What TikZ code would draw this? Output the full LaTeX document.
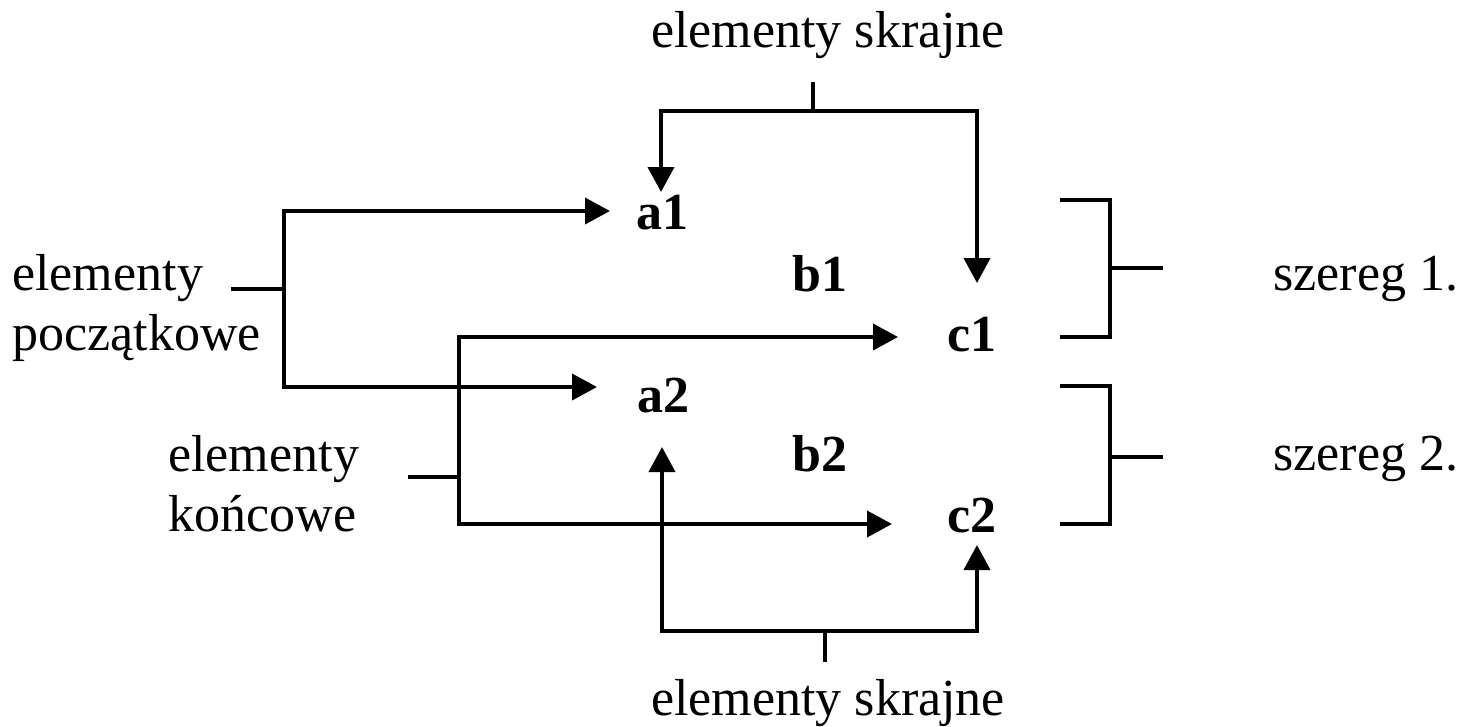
\documentclass[tikz,border=0pt]{standalone}
\usepackage{fontspec}
\setmainfont{Liberation Serif}
\usetikzlibrary{arrows.meta}
\begin{document}
\begin{tikzpicture}[x=0.02cm,y=-0.02cm,
  line/.style={line width=2.2pt},
  arr/.style={line width=2.2pt,-{Triangle[length=0.5cm,width=0.52cm]}},
  lbl/.style={font=\fontsize{29.6}{34}\selectfont, inner sep=0pt},
  el/.style={font=\fontsize{29.6}{34}\selectfont\bfseries, inner sep=0pt, anchor=base}]
\useasboundingbox (0,0) rectangle (1461,727);
% element nodes
\node[el] (a1) at (662,229) {a1};
\node[el] (b1) at (820,291) {b1};
\node[el] (c1) at (972,351) {c1};
\node[el] (a2) at (663,412) {a2};
\node[el] (b2) at (820,471) {b2};
\node[el] (c2) at (972,532) {c2};
% labels
\node[lbl,anchor=base] (top) at (828,47) {elementy skrajne};
\node[lbl,anchor=base] (bot) at (828,715) {elementy skrajne};
\node[lbl,anchor=base west] (pocz1) at (12,290) {elementy};
\node[lbl,anchor=base west] (pocz2) at (12,350) {początkowe};
\node[lbl,anchor=base west] (konc1) at (168,471) {elementy};
\node[lbl,anchor=base west] (konc2) at (168,531) {końcowe};
\node[lbl,anchor=base west] (sz1) at (1273,290) {szereg 1.};
\node[lbl,anchor=base west] (sz2) at (1273,470) {szereg 2.};
% coordinates
\coordinate (ts) at (813,82);
\coordinate (tj) at (813,111);
\coordinate (a1t) at (661,192);
\coordinate (c1t) at (977,283);
\coordinate (pt) at (231,289);
\coordinate (pj) at (284,289);
\coordinate (a1w) at (610,211);
\coordinate (a2w) at (597,387);
\coordinate (kt) at (408,477);
\coordinate (kj) at (459,477);
\coordinate (c1w) at (898,337);
\coordinate (c2w) at (892,524);
\coordinate (bs) at (825,662);
\coordinate (bj) at (825,631);
\coordinate (a2s) at (662,447);
\coordinate (c2s) at (977,545);
% top skrajne
\draw[line] (ts) -- (tj);
\draw[arr] (tj) -| (a1t);
\draw[arr] (tj) -| (c1t);
% poczatkowe
\draw[line] (pt) -- (pj);
\draw[arr] (pj) |- (a1w);
\draw[arr] (pj) |- (a2w);
% koncowe
\draw[line] (kt) -- (kj);
\draw[arr] (kj) |- (c1w);
\draw[arr] (kj) |- (c2w);
% bottom skrajne
\draw[line] (bs) -- (bj);
\draw[arr] (bj) -| (a2s);
\draw[arr] (bj) -| (c2s);
% szereg brackets
\coordinate (s1a) at (1060,200);
\coordinate (s1b) at (1110,200);
\coordinate (s1c) at (1110,337);
\coordinate (s1d) at (1060,337);
\coordinate (s1j) at (1110,268);
\coordinate (s1e) at (1163,268);
\draw[line] (s1a) -- (s1b) -- (s1c) -- (s1d);
\draw[line] (s1j) -- (s1e);
\coordinate (s2a) at (1060,386);
\coordinate (s2b) at (1110,386);
\coordinate (s2c) at (1110,524);
\coordinate (s2d) at (1060,524);
\coordinate (s2j) at (1110,457);
\coordinate (s2e) at (1163,457);
\draw[line] (s2a) -- (s2b) -- (s2c) -- (s2d);
\draw[line] (s2j) -- (s2e);
\end{tikzpicture}
\end{document}
